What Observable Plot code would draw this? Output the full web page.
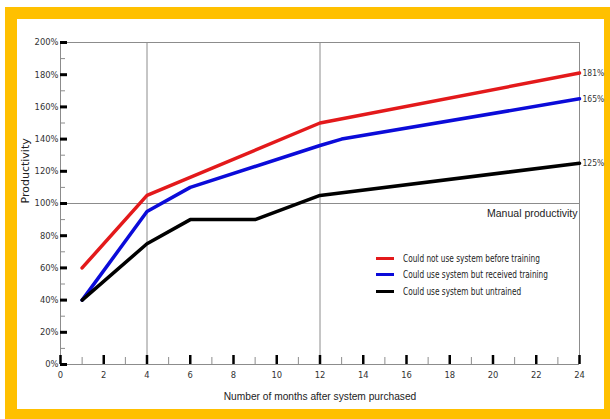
<!DOCTYPE html>
<html><head><meta charset="utf-8">
<script src="https://cdn.jsdelivr.net/npm/d3@7"></script>
<script src="https://cdn.jsdelivr.net/npm/@observablehq/plot@0.6"></script>
<style>
html,body{margin:0;padding:0;background:#fff;}
#wrap{position:relative;width:610px;height:419px;overflow:hidden;}
#frame{position:absolute;left:5px;top:7px;width:605px;height:412px;background:#FFC000;}
#inner{position:absolute;left:17px;top:19px;width:587px;height:390px;background:#fff;}
#chart{position:absolute;left:0;top:0;}
#legend{position:absolute;left:376px;top:250px;font:10px "Liberation Sans Narrow","DejaVu Sans Condensed",sans-serif;color:#222;}
.row{display:flex;align-items:center;height:16.5px;white-space:nowrap;}
.sw{width:18px;height:3px;margin-right:9px;}
.lt{display:inline-block;transform:scaleX(0.82);transform-origin:left center;}
</style></head>
<body><div id="wrap"><div id="frame"></div><div id="inner"></div><div id="chart"></div><div id="legend"></div></div>
<script>
// Series
const seriesNames = ["Could not use system before training", "Could use system but received training", "Could use system but untrained"];
const seriesColors = ["#e3191b", "#0b0bd9", "#000000"];
const redMonths = [1, 4, 12, 24];
const redValues = [60, 105, 150, 181];
const blueMonths = [1, 4, 6, 12, 13, 24];
const blueValues = [40, 95, 110, 136, 140, 165];
const blackMonths = [1, 4, 6, 9, 12, 24];
const blackValues = [40, 75, 90, 90, 105, 125];

// Axes
const xMajorTicks = [0, 2, 4, 6, 8, 10, 12, 14, 16, 18, 20, 22, 24];
const xMinorTicks = [1, 3, 5, 7, 9, 11, 13, 15, 17, 19, 21, 23];
const yMajorTicks = [0, 20, 40, 60, 80, 100, 120, 140, 160, 180, 200];
const yMinorTicks = [10, 30, 50, 70, 90, 110, 130, 150, 170, 190];
const gridMonths = [4, 12];
const baselineValue = 100;
const baselineLabel = "Manual productivity";
const xTitle = "Number of months after system purchased";
const yTitle = "Productivity";

const seriesData = [[redMonths, redValues], [blueMonths, blueValues], [blackMonths, blackValues]];
const rows = [];
seriesData.forEach(([ms, vs], i) => ms.forEach((m, j) => rows.push({series: seriesNames[i], month: m, value: vs[j]})));
const endRows = seriesData.map(([ms, vs], i) => ({series: seriesNames[i], month: ms[ms.length - 1], value: vs[vs.length - 1]}));

const narrow = '"Liberation Sans Narrow","DejaVu Sans Condensed",sans-serif';
const gray = "#8c8c8c";

const chart = Plot.plot({
  width: 610, height: 419,
  marginLeft: 60, marginRight: 31, marginTop: 42, marginBottom: 55,
  style: {background: "transparent", fontFamily: narrow, fontSize: "9.3px", color: "#333"},
  x: {domain: [0, 24]},
  y: {domain: [0, 200]},
  color: {domain: seriesNames, range: seriesColors},
  marks: [
    Plot.ruleX(gridMonths, {stroke: gray, strokeWidth: 1}),
    Plot.ruleY([baselineValue], {stroke: gray, strokeWidth: 1}),
    Plot.ruleY([200], {stroke: gray, strokeWidth: 1}),
    Plot.ruleX([24], {stroke: gray, strokeWidth: 1}),
    Plot.ruleY([0], {stroke: gray, strokeWidth: 1}),
    Plot.ruleX([0], {stroke: gray, strokeWidth: 1}),
    // y ticks (inside)
    Plot.axisY({ticks: yMinorTicks, tickSize: 5, dx: 5, text: null, label: null, stroke: gray, strokeWidth: 1}),
    Plot.axisY({ticks: yMajorTicks, tickSize: 7, dx: 7, text: null, label: null, stroke: "#000", strokeWidth: 3}),
    Plot.axisY({ticks: yMajorTicks, tickSize: 0, tickPadding: 2, tickFormat: d => d + "%", label: null, fill: "#333"}),
    // x ticks (inside)
    Plot.axisX({ticks: xMinorTicks, tickSize: 7, dy: -7, text: null, label: null, stroke: gray, strokeWidth: 1}),
    Plot.axisX({ticks: xMajorTicks, tickSize: 9, dy: -9, text: null, label: null, stroke: "#000", strokeWidth: 2.5}),
    Plot.axisX({ticks: xMajorTicks, tickSize: 0, tickPadding: 7, label: null, fill: "#333"}),
    Plot.line(rows, {x: "month", y: "value", z: "series", stroke: "series", strokeWidth: 3.5, strokeLinejoin: "miter"}),
    Plot.text(endRows, {x: "month", y: "value", text: d => d.value + "%", textAnchor: "start", dx: 3, fill: "#333", fontSize: 8.5}),
    Plot.text([baselineLabel], {x: 24, y: baselineValue, textAnchor: "end", dx: -2, dy: 10, fontFamily: '"Liberation Sans",sans-serif', fontSize: 10.5, fill: "#222"}),
    Plot.text([xTitle], {frameAnchor: "bottom", dy: 35, fontFamily: '"Liberation Sans",sans-serif', fontSize: 10.2, fill: "#222"}),
    Plot.text([yTitle], {frameAnchor: "left", dx: -35, rotate: -90, fontFamily: '"DejaVu Sans",sans-serif', fontSize: 11, fill: "#222"})
  ]
});
document.getElementById("chart").appendChild(chart);

const legend = document.getElementById("legend");
seriesNames.forEach((n, i) => {
  const r = document.createElement("div"); r.className = "row";
  const s = document.createElement("div"); s.className = "sw"; s.style.background = seriesColors[i];
  const t = document.createElement("span"); t.className = "lt"; t.textContent = n;
  r.appendChild(s); r.appendChild(t); legend.appendChild(r);
});
</script>
</body></html>
